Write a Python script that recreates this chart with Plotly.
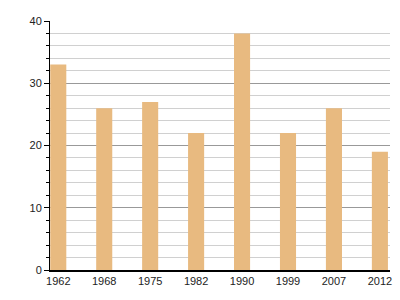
import plotly.graph_objects as go

years = ["1962", "1968", "1975", "1982", "1990", "1999", "2007", "2012"]
values = [33, 26, 27, 22, 38, 22, 26, 19]

fig = go.Figure(go.Bar(x=years, y=values, marker_color="#E8BA80", width=0.35,
                       marker_line_width=0))
fig.update_layout(
    width=400, height=300,
    margin=dict(l=50, r=8, t=21, b=30),
    paper_bgcolor="white", plot_bgcolor="white",
    showlegend=False,
    font=dict(family="Liberation Sans, Arial, sans-serif", size=11, color="#222"),
)
fig.update_xaxes(type="category", range=[-0.18, 7.22], showline=True, linecolor="black",
                 linewidth=1.5, ticks="", showgrid=False, tickfont=dict(size=11, color="#222"))
fig.update_yaxes(range=[0, 40], dtick=10, showline=True, linecolor="black", linewidth=1,
                 ticks="outside", ticklen=5, tickcolor="black",
                 showgrid=True, gridcolor="#999", gridwidth=1,
                 zeroline=False,
                 minor=dict(dtick=2, showgrid=True, gridcolor="#d0d0d0", gridwidth=1,
                            ticks="outside", ticklen=3, tickcolor="black"),
                 tickfont=dict(size=11, color="#222"))
fig.write_html("out.html")
